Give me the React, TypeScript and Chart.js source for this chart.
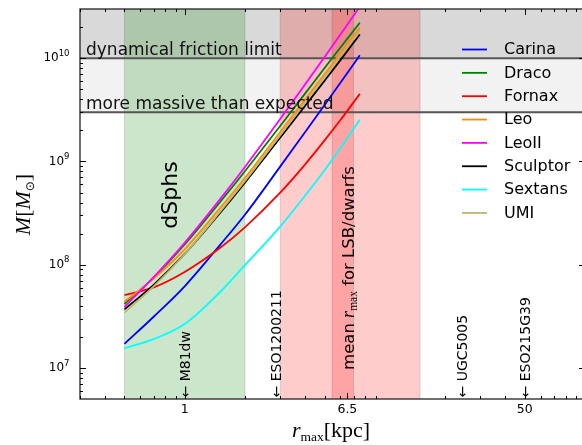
import React, { useEffect, useRef } from 'react';
import { Chart, registerables } from 'chart.js';

Chart.register(...registerables);

// ---- data ----
const rMax = [0.5, 0.7, 1, 1.5, 2, 3, 4, 5, 6, 7.5];
const carina = [1.71e7, 3.13e7, 6.17e7, 1.55e8, 3.05e8, 8.91e8, 1.93e9, 3.52e9, 5.78e9, 1.07e10];
const draco = [4.16e7, 7.5e7, 1.57e8, 4.03e8, 8.04e8, 2.21e9, 4.57e9, 8.04e9, 1.27e10, 2.21e10];
const fornax = [5.08e7, 6.03e7, 8.51e7, 1.45e8, 2.3e8, 4.98e8, 9.38e8, 1.6e9, 2.52e9, 4.52e9];
const leo = [4.38e7, 7.33e7, 1.41e8, 3.51e8, 6.92e8, 1.93e9, 3.98e9, 7.0e9, 1.11e10, 1.97e10];
const leoII = [3.9e7, 7.59e7, 1.63e8, 4.29e8, 8.85e8, 2.58e9, 5.61e9, 1.03e10, 1.7e10, 3.16e10];
const sculptor = [3.69e7, 6.38e7, 1.27e8, 3.16e8, 6.24e8, 1.7e9, 3.47e9, 6.05e9, 9.59e9, 1.7e10];
const sextans = [1.55e7, 1.9e7, 2.66e7, 5.41e7, 9.89e7, 2.34e8, 4.68e8, 8.22e8, 1.35e9, 2.54e9];
const umi = [3.43e7, 6.17e7, 1.27e8, 3.24e8, 6.46e8, 1.8e9, 3.73e9, 6.58e9, 1.05e10, 1.87e10];

const seriesNames = ['Carina', 'Draco', 'Fornax', 'Leo', 'LeoII', 'Sculptor', 'Sextans', 'UMI'];
const seriesValues = [carina, draco, fornax, leo, leoII, sculptor, sextans, umi];
const seriesColors = ['#0000ff', '#008000', '#ff0000', '#ff8c00', '#ff00ff', '#000000', '#00ffff', '#bdb76b'];

const massLimits = [1e10, 3e9];
const massLimitLabels = ['dynamical friction limit', 'more massive than expected'];
const dsphRange = [0.5, 2];
const lsbRange = [3, 15];
const meanRange = [5.45, 6.97];
const markerNames = ['M81dw', 'ESO1200211', 'UGC5005', 'ESO215G39'];
const markerR = [1, 2.87, 24.3, 50];
const xTickValues = [1, 6.5, 50];
const xTickLabels = ['1', '6.5', '50'];
const yTickExponents = [7, 8, 9, 10];
const xRange = [0.3, 100];
const yRange = [5e6, 3e10];

const SANS = '"DejaVu Sans", sans-serif';
const SERIF = '"Liberation Serif", "DejaVu Serif", serif';

type Run = { t: string; f: string; dy: number };

function runsWidth(ctx: CanvasRenderingContext2D, runs: Run[]) {
  let w = 0;
  for (const r of runs) {
    ctx.font = r.f;
    w += ctx.measureText(r.t).width;
  }
  return w;
}
function drawRuns(ctx: CanvasRenderingContext2D, runs: Run[], x: number, y: number) {
  let cx = x;
  for (const r of runs) {
    ctx.font = r.f;
    ctx.fillText(r.t, cx, y + r.dy);
    cx += ctx.measureText(r.t).width;
  }
}

const decor = {
  id: 'decor',
  beforeDatasetsDraw(chart: any) {
    const { ctx, chartArea: a, scales } = chart;
    const xs = scales.x;
    const ys = scales.y;
    const w = a.right - a.left;
    const h = a.bottom - a.top;
    ctx.save();
    ctx.beginPath();
    ctx.rect(a.left, a.top, w, h);
    ctx.clip();
    const y10 = ys.getPixelForValue(massLimits[0]);
    const y3 = ys.getPixelForValue(massLimits[1]);
    ctx.fillStyle = '#d9d9d9';
    ctx.fillRect(a.left, a.top, w, y10 - a.top);
    ctx.fillStyle = '#f2f2f2';
    ctx.fillRect(a.left, y10, w, y3 - y10);
    const span = (r: number[], color: string) => {
      const x0 = xs.getPixelForValue(r[0]);
      const x1 = xs.getPixelForValue(r[1]);
      ctx.fillStyle = color;
      ctx.fillRect(x0, a.top, x1 - x0, h);
      ctx.strokeStyle = 'rgba(0,0,0,0.13)';
      ctx.lineWidth = 1;
      for (const px of [x0, x1]) {
        ctx.beginPath();
        ctx.moveTo(px, a.top);
        ctx.lineTo(px, a.bottom);
        ctx.stroke();
      }
    };
    span(dsphRange, 'rgba(0,128,0,0.2)');
    span(lsbRange, 'rgba(255,0,0,0.2)');
    span(meanRange, 'rgba(255,0,0,0.2)');
    ctx.strokeStyle = '#555';
    ctx.lineWidth = 2;
    for (const v of massLimits) {
      const py = ys.getPixelForValue(v);
      ctx.beginPath();
      ctx.moveTo(a.left, py);
      ctx.lineTo(a.right, py);
      ctx.stroke();
    }
    ctx.restore();
  },
  afterDatasetsDraw(chart: any) {
    const { ctx, chartArea: a, scales } = chart;
    const xs = scales.x;
    const ys = scales.y;
    ctx.save();
    ctx.fillStyle = '#000';
    ctx.textAlign = 'left';
    ctx.textBaseline = 'alphabetic';

    // mass limit labels
    ctx.font = `17px ${SANS}`;
    massLimits.forEach((v, i) => {
      ctx.fillStyle = '#111';
      ctx.fillText(massLimitLabels[i], 86, ys.getPixelForValue(v) - 3.4);
    });
    ctx.fillStyle = '#000';

    // dSphs label
    ctx.save();
    ctx.translate(177, 195);
    ctx.rotate(-Math.PI / 2);
    ctx.font = `22px ${SANS}`;
    ctx.textAlign = 'center';
    ctx.fillText('dSphs', 0, 0);
    ctx.restore();

    // mean r_max label
    ctx.save();
    const meanRuns: Run[] = [
      { t: 'mean ', f: `16.5px ${SANS}`, dy: 0 },
      { t: 'r', f: `italic 18px ${SERIF}`, dy: 0 },
      { t: 'max', f: `11.5px ${SERIF}`, dy: 3.5 },
      { t: ' for LSB/dwarfs', f: `16.5px ${SANS}`, dy: 0 },
    ];
    ctx.translate(353.5, 268);
    ctx.rotate(-Math.PI / 2);
    const mw = runsWidth(ctx, meanRuns);
    drawRuns(ctx, meanRuns, -mw / 2, 0);
    ctx.restore();

    // galaxy markers
    ctx.font = `14px ${SANS}`;
    markerNames.forEach((n, i) => {
      const px = xs.getPixelForValue(markerR[i]);
      ctx.save();
      ctx.translate(px + 5, a.bottom - 1.5);
      ctx.rotate(-Math.PI / 2);
      ctx.fillText('\u2190 ' + n, 0, 0);
      ctx.restore();
    });

    // legend
    seriesNames.forEach((n, i) => {
      const ly = 49.5 + i * 23.35;
      ctx.strokeStyle = seriesColors[i];
      ctx.lineWidth = 1.8;
      ctx.beginPath();
      ctx.moveTo(462, ly);
      ctx.lineTo(487, ly);
      ctx.stroke();
      ctx.fillStyle = '#000';
      ctx.font = `16px ${SANS}`;
      ctx.textBaseline = 'middle';
      ctx.fillText(n, 504, ly + 0.5);
    });
    ctx.textBaseline = 'alphabetic';

    // frame
    ctx.strokeStyle = '#222';
    ctx.lineWidth = 1.3;
    ctx.strokeRect(a.left, a.top, a.right - a.left, a.bottom - a.top);

    // ticks
    ctx.strokeStyle = '#000';
    ctx.lineWidth = 1;
    const line = (x1: number, y1: number, x2: number, y2: number) => {
      ctx.beginPath();
      ctx.moveTo(x1, y1);
      ctx.lineTo(x2, y2);
      ctx.stroke();
    };
    const xTick = (v: number, len: number) => {
      const px = Math.round(xs.getPixelForValue(v)) + 0.5;
      line(px, a.bottom, px, a.bottom - len);
      line(px, a.top, px, a.top + len);
    };
    const yTick = (v: number, len: number) => {
      const py = Math.round(ys.getPixelForValue(v)) + 0.5;
      line(a.left, py, a.left + len, py);
      line(a.right, py, a.right - len, py);
    };
    for (const d of [0.1, 1, 10]) {
      for (let k = 2; k <= 9; k++) {
        const v = k * d;
        if (v > xRange[0] * 0.999 && v < xRange[1]) xTick(v, 3);
      }
    }
    xTickValues.forEach((v) => xTick(v, 6));
    for (let e = 6; e <= 10; e++) {
      for (let k = 2; k <= 9; k++) {
        const v = k * Math.pow(10, e);
        if (v > yRange[0] && v < yRange[1]) yTick(v, 3);
      }
    }
    yTickExponents.forEach((e) => yTick(Math.pow(10, e), 6));

    // x tick labels
    ctx.fillStyle = '#000';
    ctx.font = `12.5px ${SANS}`;
    ctx.textAlign = 'center';
    ctx.textBaseline = 'middle';
    xTickValues.forEach((v, i) => {
      ctx.fillText(xTickLabels[i], xs.getPixelForValue(v), a.bottom + 10.5);
    });

    // y tick labels 10^e
    ctx.textAlign = 'left';
    yTickExponents.forEach((e) => {
      const py = ys.getPixelForValue(Math.pow(10, e));
      const runs: Run[] = [
        { t: '10', f: `12px ${SANS}`, dy: 0 },
        { t: String(e), f: `8.5px ${SANS}`, dy: -4.5 },
      ];
      const w = runsWidth(ctx, runs);
      ctx.textBaseline = 'middle';
      drawRuns(ctx, runs, 69.5 - w, py);
    });
    ctx.textBaseline = 'alphabetic';

    // x axis title
    const xt: Run[] = [
      { t: 'r', f: `italic 22px ${SERIF}`, dy: 0 },
      { t: 'max', f: `13.5px ${SERIF}`, dy: 4 },
      { t: '[kpc]', f: `22px ${SERIF}`, dy: 0 },
    ];
    const xtw = runsWidth(ctx, xt);
    drawRuns(ctx, xt, 331 - xtw / 2, 437);

    // y axis title
    ctx.save();
    ctx.translate(30, 204.5);
    ctx.rotate(-Math.PI / 2);
    const yt: Run[] = [
      { t: 'M', f: `italic 22px ${SERIF}`, dy: 0 },
      { t: '[', f: `22px ${SERIF}`, dy: 0 },
      { t: 'M', f: `italic 22px ${SERIF}`, dy: 0 },
      { t: '\u2299', f: `12px ${SANS}`, dy: 4 },
      { t: ']', f: `22px ${SERIF}`, dy: 0 },
    ];
    const ytw = runsWidth(ctx, yt);
    drawRuns(ctx, yt, -ytw / 2, 0);
    ctx.restore();

    ctx.restore();
  },
};

export default function App() {
  const ref = useRef<HTMLCanvasElement | null>(null);
  useEffect(() => {
    if (!ref.current) return;
    const chart = new Chart(ref.current, {
      type: 'line',
      data: {
        datasets: seriesNames.map((n, i) => ({
          label: n,
          data: rMax.map((r, j) => ({ x: r, y: seriesValues[i][j] })),
          borderColor: seriesColors[i],
          backgroundColor: seriesColors[i],
          borderWidth: 1.8,
          pointRadius: 0,
          fill: false,
          cubicInterpolationMode: 'monotone' as const,
          order: 20 - i,
        })),
      },
      options: {
        responsive: false,
        animation: false,
        events: [],
        layout: { padding: { left: 80, top: 9, right: 5, bottom: 46 } },
        plugins: { legend: { display: false }, tooltip: { enabled: false } },
        scales: {
          x: { type: 'logarithmic', min: xRange[0], max: xRange[1], display: false },
          y: { type: 'logarithmic', min: yRange[0], max: yRange[1], display: false },
        },
      },
      plugins: [decor],
    });
    return () => chart.destroy();
  }, []);
  return (
    <div
      style={{
        position: 'fixed',
        left: 0,
        top: 0,
        width: 582,
        height: 445,
        overflow: 'hidden',
        background: '#fff',
      }}
    >
      <canvas ref={ref} width={590} height={445} style={{ width: 590, height: 445, display: 'block' }} />
    </div>
  );
}
